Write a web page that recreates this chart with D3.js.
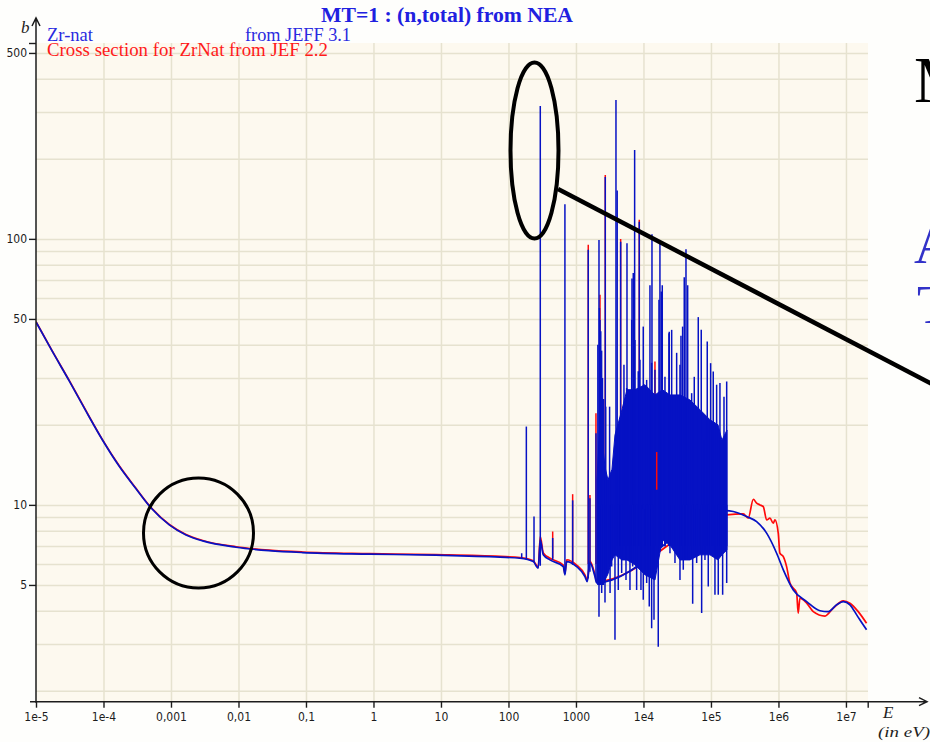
<!DOCTYPE html>
<html>
<head>
<meta charset="utf-8">
<script src="https://cdn.jsdelivr.net/npm/d3@7"></script>
<style>
  body { margin: 0; background: #fefefc; }
  svg { display: block; }
  .tick text { font-family: 'DejaVu Sans Condensed', 'DejaVu Sans', sans-serif; font-stretch: condensed; font-size: 12px; fill: #1c1c1c; }
  .serif { font-family: 'Liberation Serif', 'DejaVu Serif', serif; }
</style>
</head>
<body>
<script>
// tick labels and grid values
const xTickValues = [1e-5, 1e-4, 1e-3, 1e-2, 0.1, 1, 10, 100, 1e3, 1e4, 1e5, 1e6, 1e7];
const xTickLabels = ['1e-5', '1e-4', '0,001', '0,01', '0,1', '1', '10', '100', '1000', '1e4', '1e5', '1e6', '1e7'];
const yTickValues = [5, 10, 50, 100, 500];
const yTickLabels = ['5', '10', '50', '100', '500'];
const yGridValues = [2, 3, 4, 5, 6, 7, 8, 9, 10, 20, 30, 40, 50, 60, 70, 80, 90, 100, 200, 300, 400, 500];

// JEFF 3.1 (blue) smooth part: [E (eV), sigma (b)]
const jeffCurve = [
  [1e-5, 48.7], [1.73e-5, 37.9], [3.12e-5, 29.2], [5.5e-5, 22.5], [9.7e-5, 17.5], [1.7e-4, 14.0],
  [3.03e-4, 11.5], [4.77e-4, 9.91], [9.44e-4, 8.41], [1.67e-3, 7.71], [2.95e-3, 7.32], [9.2e-3, 6.93],
  [0.0283, 6.73], [0.089, 6.62], [0.87, 6.53], [8.4, 6.47], [75, 6.36], [148, 6.30], [233, 6.12],
  [276, 5.78], [296, 7.39], [328, 6.49], [412, 6.21], [649, 5.86], [686, 5.46], [728, 6.12],
  [1023, 5.86], [1358, 5.38], [1469, 5.15], [1610, 6.05], [1911, 5.38], [2027, 5.09],
  [171000, 9.52], [213900, 9.44], [338000, 9.04], [475000, 8.65], [668000, 7.83], [940000, 6.58],
  [1.18e6, 5.70], [1.66e6, 4.79], [2.62e6, 4.33], [4.12e6, 4.00], [5.47e6, 3.97], [7.28e6, 4.21],
  [9.12e6, 4.33], [1.146e7, 4.21], [1.442e7, 3.86], [1.8e7, 3.54], [2.02e7, 3.39]
];

// JEFF 3.1 dense mass of resonances: [E, upper, lower]
const jeffBand = [
  [2047, 12.4, 5.09], [2269, 20.9, 5.0], [2692, 13.9, 5.22], [2980, 12.4, 5.5], [3414, 13.6, 6.21],
  [3784, 18.3, 6.49], [4800, 22.8, 6.21], [5700, 27.1, 6.21], [7480, 27.1, 5.95], [10520, 28.3, 5.46],
  [14800, 25.9, 5.22], [19000, 27.1, 7.39], [24700, 25.9, 7.07], [34750, 25.9, 6.21], [48870, 24.8, 6.21],
  [68730, 22.8, 6.49], [96600, 20.9, 6.49], [127000, 20.0, 6.21], [145500, 17.5, 6.49], [172600, 19.1, 6.77]
];

// JEFF 3.1 resonance peaks going up: [E, top, bottom]
const jeffPeaksUp = [
  [157, 6.58, 6.28], [184, 19.7, 6.25], [239, 9.04, 6.1], [296, 316, 5.9], [452, 7.5, 6.2], [686, 135, 5.5],
  [893, 10.4, 5.95], [1521, 91, 5.3], [1611, 10.6, 5.6], [1978, 18.6, 5.2],
  [2110, 40, 5], [2193, 99, 5], [2230, 55, 5], [2269, 49.5, 5], [2330, 45, 5], [2400, 38, 5], [2470, 30, 5],
  [2560, 25, 5], [2718, 171, 5.2], [2760, 23.4, 5.5], [3150, 23.4, 6],
  [3915, 333, 7], [4080, 152, 7], [4236, 18.3, 7], [4592, 97.5, 7], [4753, 21.5, 7], [5140, 33.6, 7],
  [5640, 27.5, 7], [5700, 96.3, 7], [6160, 24.8, 7], [6690, 49.6, 7], [6760, 71, 7], [7063, 74.4, 7],
  [7400, 216, 7], [7480, 41.7, 7], [8370, 31.8, 7], [8670, 116, 7], [8870, 35.1, 7], [9930, 46.8, 7],
  [11150, 29.5, 7], [12480, 67, 7], [13220, 34.2, 7], [13370, 104, 7], [14800, 32.2, 7], [16980, 59, 7],
  [17540, 96, 7], [18370, 63.4, 7], [18990, 67, 7], [20830, 30.3, 7], [23870, 44.2, 7], [24100, 44.8, 7],
  [26180, 45.5, 7], [31030, 37.3, 7], [34750, 33.6, 7], [35940, 43.2, 7], [38020, 46.8, 7], [40200, 71.7, 7],
  [42650, 91.5, 7], [45170, 67, 7], [51760, 26.3, 7], [56600, 30.3, 7], [64860, 50.8, 7], [71800, 45.5, 7],
  [78700, 17.5, 7], [88100, 41.1, 7], [98900, 34.1, 7], [108100, 31.7, 7], [121400, 28.3, 7],
  [135900, 28.7, 7], [156000, 25.5, 7], [171000, 29.1, 7]
];

// JEFF 3.1 minima going down: [E, top, bottom]
const jeffPeaksDown = [
  [2193, 10, 3.8], [2404, 10, 4.66], [2692, 10, 4.3], [3200, 10, 4.66], [3380, 10, 5.86], [3784, 10, 3.11],
  [4236, 10, 4.79], [4753, 10, 5.54], [5510, 10, 5.22], [6310, 10, 4.79], [6920, 10, 5.86], [7920, 10, 4.79],
  [9180, 10, 4.79], [9930, 10, 4.40], [11150, 10, 5.08], [12190, 10, 4.15], [13220, 10, 3.44], [14320, 10, 3.70],
  [16560, 10, 2.93], [20830, 10, 6.97], [24700, 10, 6.58], [29300, 10, 6.04], [34750, 10, 5.22], [38900, 10, 5.70],
  [43650, 10, 6.21], [53580, 10, 4.25], [61400, 10, 6.04], [72800, 10, 3.92], [81500, 10, 6.21], [91200, 10, 4.93],
  [114600, 10, 4.59], [128300, 10, 4.59], [149000, 10, 4.59], [171000, 10, 5.08]
];

// JEF 2.2 (red): [E, sigma]
const jefCurve = [
  [1e-5, 48.8], [1.73e-5, 38.0], [3.12e-5, 29.3], [5.5e-5, 22.6], [9.7e-5, 17.55], [1.7e-4, 14.05],
  [3.03e-4, 11.54], [4.77e-4, 9.95], [9.44e-4, 8.44], [1.67e-3, 7.74], [2.95e-3, 7.35], [9.2e-3, 6.96],
  [0.0283, 6.76], [0.089, 6.65], [0.87, 6.56], [8.4, 6.5], [75, 6.4], [148, 6.34], [233, 6.17],
  [276, 5.83], [296, 7.6], [328, 6.6], [412, 6.3], [649, 5.94], [686, 5.53], [728, 6.22],
  [1023, 5.94], [1358, 5.46], [1469, 5.22], [1610, 6.15], [1911, 5.46], [2027, 5.16],
  [171000, 9.17], [301000, 9.25], [357000, 8.91], [424000, 10.5], [475000, 10.15], [532000, 10.0],
  [596000, 9.85], [668000, 8.78], [748000, 8.91], [838000, 8.53], [887000, 8.78], [993000, 7.83],
  [1.05e6, 6.58], [1.18e6, 6.39], [1.32e6, 5.86], [1.48e6, 5.08], [1.86e6, 4.66], [1.96e6, 3.92],
  [2.08e6, 4.46], [2.62e6, 4.27], [3.28e6, 3.97], [4.89e6, 3.82], [6.49e6, 4.09], [9.12e6, 4.36],
  [1.146e7, 4.27], [1.52e7, 3.97], [2.02e7, 3.59]
];

// JEF 2.2 resonance peaks: [E, top, bottom]
const jefPeaks = [
  [452, 7.94, 6.3], [893, 10.97, 6], [1521, 95, 6], [1611, 10.9, 6], [1978, 22.1, 6], [2269, 61.6, 6],
  [2538, 13.8, 6], [2718, 174, 6], [4592, 100, 8], [8670, 118, 8], [14800, 34.6, 8]
];
const jefInBand = [[15700, 15.8, 11.4]];

const PLOT = { left: 36, right: 868, top: 43, bottom: 701.7 };
const BLUE = '#0612c4';
const RED = '#ff0a0a';

const svg = d3.select('body').append('svg')
    .attr('width', 930)
    .attr('height', 742);

const x = d3.scaleLog().domain([1e-5, 2.1e7]).range([PLOT.left, 867.7]);
const y = d3.scaleLog().domain([1.82, 545]).range([PLOT.bottom, PLOT.top]);

svg.append('rect')
    .attr('x', PLOT.left).attr('y', PLOT.top)
    .attr('width', PLOT.right - PLOT.left).attr('height', PLOT.bottom - PLOT.top)
    .attr('fill', '#fdf9ef');

// grid
svg.append('g')
    .attr('transform', `translate(0,${PLOT.bottom})`)
    .call(d3.axisBottom(x).tickValues(xTickValues.slice(1)).tickSize(-(PLOT.bottom - PLOT.top)).tickFormat(''))
    .call(g => g.select('.domain').remove())
    .selectAll('line').attr('stroke', '#e6e2cf').attr('stroke-width', 1.5);

svg.append('g')
    .attr('transform', `translate(${PLOT.left},0)`)
    .call(d3.axisLeft(y).tickValues(yGridValues).tickSize(-(PLOT.right - PLOT.left)).tickFormat(''))
    .call(g => g.select('.domain').remove())
    .selectAll('line').attr('stroke', '#e6e2cf').attr('stroke-width', 1.5);

svg.append('clipPath').attr('id', 'plot-clip')
  .append('rect')
    .attr('x', PLOT.left).attr('y', PLOT.top)
    .attr('width', PLOT.right - PLOT.left).attr('height', PLOT.bottom - PLOT.top);

const plot = svg.append('g').attr('clip-path', 'url(#plot-clip)');

const line = d3.line().x(d => x(d[0])).y(d => y(d[1])).curve(d3.curveMonotoneX);
const band = d3.area().x(d => x(d[0])).y0(d => y(d[2])).y1(d => y(d[1]));

const drawPeaks = (data, color, width) => {
    plot.append('g').selectAll('line')
        .data(data)
        .join('line')
        .attr('x1', d => x(d[0])).attr('x2', d => x(d[0]))
        .attr('y1', d => y(d[1])).attr('y2', d => y(d[2]))
        .attr('stroke', color)
        .attr('stroke-width', width);
};

// red first, blue drawn over it
plot.append('path').datum(jefCurve)
    .attr('d', line).attr('fill', 'none')
    .attr('stroke', RED).attr('stroke-width', 1.7);
drawPeaks(jefPeaks, RED, 1.5);

plot.append('path').datum(jeffCurve)
    .attr('d', line).attr('fill', 'none')
    .attr('stroke', BLUE).attr('stroke-width', 1.7);
plot.append('path').datum(jeffBand)
    .attr('d', band).attr('fill', BLUE)
    .attr('stroke', BLUE).attr('stroke-width', 1);
drawPeaks(jeffPeaksUp, BLUE, 1.5);
drawPeaks(jeffPeaksDown, BLUE, 1.5);
drawPeaks(jefInBand, RED, 1.5);

// axes
svg.append('g')
    .attr('transform', `translate(0,${PLOT.bottom})`)
    .call(d3.axisBottom(x).tickValues(xTickValues).tickFormat((d, i) => xTickLabels[i]).tickSize(6).tickPadding(5))
    .call(g => g.select('.domain').remove());
svg.append('g')
    .attr('transform', `translate(0,${PLOT.bottom})`)
    .call(d3.axisBottom(x).tickValues([x.domain()[1]]).tickFormat('').tickSize(6))
    .call(g => g.select('.domain').remove());

svg.append('g')
    .attr('transform', `translate(${PLOT.left},0)`)
    .call(d3.axisLeft(y).tickValues(yTickValues).tickFormat((d, i) => yTickLabels[i]).tickSize(7).tickPadding(2))
    .call(g => g.select('.domain').remove());
svg.append('g')
    .attr('transform', `translate(${PLOT.left},0)`)
    .call(d3.axisLeft(y).tickValues([y.domain()[1]]).tickFormat('').tickSize(7))
    .call(g => g.select('.domain').remove());

svg.selectAll('.tick line').filter(function () { return this.getAttribute('stroke') === 'currentColor'; })
    .attr('stroke', '#1c1c1c').attr('stroke-width', 1.4);

// axis lines with open arrows
svg.append('path')
    .attr('d', `M30,${PLOT.bottom}H927M919,${PLOT.bottom - 4}L927,${PLOT.bottom}L919,${PLOT.bottom + 4}`)
    .attr('fill', 'none').attr('stroke', '#1c1c1c').attr('stroke-width', 1.5);
svg.append('path')
    .attr('d', `M${PLOT.left},${PLOT.bottom + 1}V18M${PLOT.left - 4},26L${PLOT.left},18L${PLOT.left + 4},26`)
    .attr('fill', 'none').attr('stroke', '#1c1c1c').attr('stroke-width', 1.5);

// axis titles
svg.append('text').attr('class', 'serif')
    .attr('x', 21).attr('y', 33)
    .style('font-style', 'italic').style('font-size', '17px').attr('fill', '#222')
    .text('b');
svg.append('text').attr('class', 'serif')
    .attr('x', 883).attr('y', 718)
    .style('font-style', 'italic').style('font-size', '17px').attr('fill', '#222')
    .text('E');
svg.append('text').attr('class', 'serif')
    .attr('x', 878).attr('y', 737)
    .style('font-style', 'italic').style('font-size', '15px').attr('fill', '#222')
    .attr('textLength', 52).attr('lengthAdjust', 'spacingAndGlyphs')
    .text('(in eV)');

// title and legend
svg.append('text').attr('class', 'serif')
    .attr('x', 447).attr('y', 21.5).attr('text-anchor', 'middle')
    .style('font-weight', 'bold').style('font-size', '20px').attr('fill', '#2020e0')
    .attr('textLength', 252).attr('lengthAdjust', 'spacingAndGlyphs')
    .text('MT=1 : (n,total) from NEA');
svg.append('text').attr('class', 'serif')
    .attr('x', 47).attr('y', 41)
    .style('font-size', '18px').attr('fill', '#2a2ae0')
    .attr('textLength', 46).attr('lengthAdjust', 'spacingAndGlyphs')
    .text('Zr-nat');
svg.append('text').attr('class', 'serif')
    .attr('x', 245).attr('y', 41)
    .style('font-size', '18px').attr('fill', '#2a2ae0')
    .attr('textLength', 106).attr('lengthAdjust', 'spacingAndGlyphs')
    .text('from JEFF 3.1');
svg.append('text').attr('class', 'serif')
    .attr('x', 47).attr('y', 55.5)
    .style('font-size', '18px').attr('fill', '#ff1a1a')
    .attr('textLength', 281).attr('lengthAdjust', 'spacingAndGlyphs')
    .text('Cross section for ZrNat from JEF 2.2');

// slide annotations
const notes = svg.append('g').attr('fill', 'none').attr('stroke', '#000');
notes.append('ellipse')
    .attr('cx', 534.5).attr('cy', 150.5).attr('rx', 24).attr('ry', 88)
    .attr('stroke-width', 4);
notes.append('line')
    .attr('x1', 558).attr('y1', 189).attr('x2', 934).attr('y2', 385)
    .attr('stroke-width', 4.5);
notes.append('circle')
    .attr('cx', 198.5).attr('cy', 533).attr('r', 55)
    .attr('stroke-width', 3);

svg.append('text').attr('class', 'serif')
    .attr('x', 914).attr('y', 102)
    .style('font-size', '65px').attr('fill', '#000')
    .text('M');
svg.append('text').attr('class', 'serif')
    .attr('x', 914).attr('y', 263)
    .style('font-size', '54px').attr('fill', '#3232c8')
    .text('A');
svg.append('text').attr('class', 'serif')
    .attr('x', 917).attr('y', 323)
    .style('font-size', '54px').attr('fill', '#3232c8')
    .text('T');
</script>
</body>
</html>
